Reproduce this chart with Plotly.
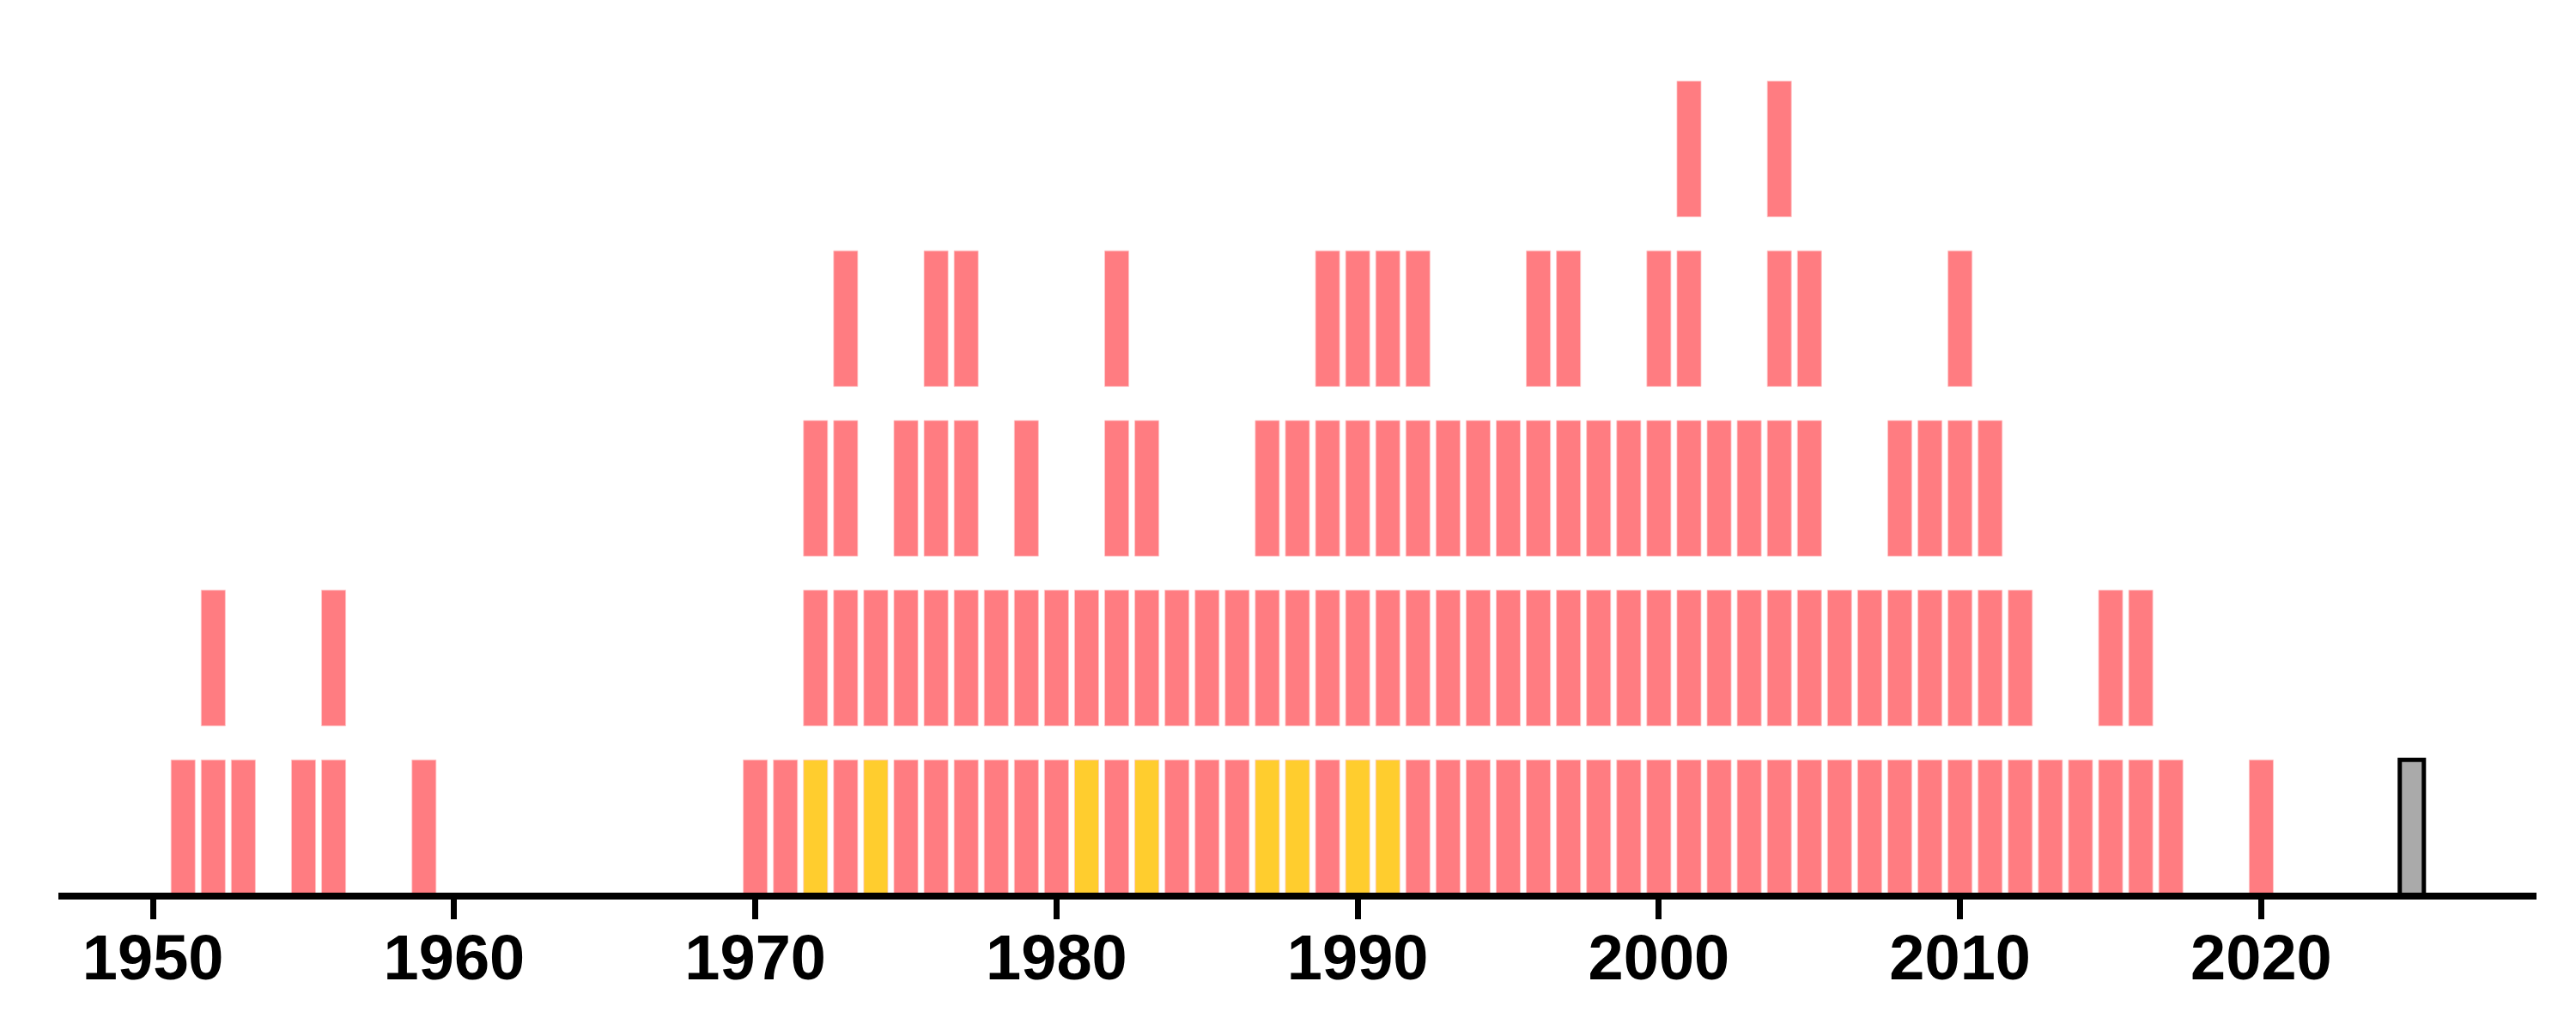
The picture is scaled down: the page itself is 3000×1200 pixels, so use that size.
import plotly.graph_objects as go

# ---- data ----
years = [1951, 1952, 1953, 1955, 1956, 1959,
         1970, 1971, 1972, 1973, 1974, 1975, 1976, 1977, 1978, 1979,
         1980, 1981, 1982, 1983, 1984, 1985, 1986, 1987, 1988, 1989,
         1990, 1991, 1992, 1993, 1994, 1995, 1996, 1997, 1998, 1999,
         2000, 2001, 2002, 2003, 2004, 2005, 2006, 2007, 2008, 2009,
         2010, 2011, 2012, 2013, 2014, 2015, 2016, 2017, 2020]
counts = [1, 2, 1, 1, 2, 1,
          1, 1, 3, 4, 2, 3, 4, 4, 2, 3,
          2, 2, 4, 3, 2, 2, 2, 3, 3, 4,
          4, 4, 4, 3, 3, 3, 4, 4, 3, 3,
          4, 5, 3, 3, 5, 4, 2, 2, 3, 3,
          4, 3, 2, 1, 1, 2, 2, 1, 1]
highlight_years = [1972, 1974, 1981, 1983, 1987, 1988, 1990, 1991]
pending_years = [2025]
pending_counts = [1]
tick_years = [1950, 1960, 1970, 1980, 1990, 2000, 2010, 2020]

PINK = "#FF7C81"
YELLOW = "#FFCD2E"
GRAY = "#AAAAAA"
BLOCK_H = 0.8
BAR_W = 0.8

fig = go.Figure()

max_count = max(counts)
for level in range(max_count):
    xs = [y for y, c in zip(years, counts) if c > level]
    cols = [YELLOW if (level == 0 and y in highlight_years) else PINK for y in xs]
    fig.add_trace(go.Bar(
        x=xs, y=[BLOCK_H] * len(xs), base=[level] * len(xs), width=BAR_W,
        marker=dict(color=cols, line=dict(width=1, color="rgba(255,200,202,0.8)")),
        showlegend=False, hoverinfo="x",
    ))

for level in range(max(pending_counts)):
    xs = [y for y, c in zip(pending_years, pending_counts) if c > level]
    fig.add_trace(go.Bar(
        x=xs, y=[BLOCK_H] * len(xs), base=[level] * len(xs), width=BAR_W,
        marker=dict(color=GRAY, line=dict(width=5, color="black")),
        showlegend=False, hoverinfo="x",
    ))

fig.update_layout(
    width=3000, height=1200,
    margin=dict(l=68, r=46, t=47, b=160, pad=0),
    paper_bgcolor="white", plot_bgcolor="white",
    barmode="overlay",
    xaxis=dict(
        range=[1946.86, 2029.14], tickvals=tick_years,
        ticktext=[str(t) for t in tick_years],
        showline=True, linewidth=8, linecolor="black",
        ticks="outside", ticklen=23, tickwidth=7, tickcolor="black",
        ticklabelstandoff=-19,
        tickfont=dict(family="Liberation Sans, Arial, sans-serif", size=74,
                      color="black", weight="bold"),
        showgrid=False, zeroline=False,
    ),
    yaxis=dict(range=[0.0177, 5.04], visible=False, showgrid=False, zeroline=False),
)

fig.write_html("out.html")
